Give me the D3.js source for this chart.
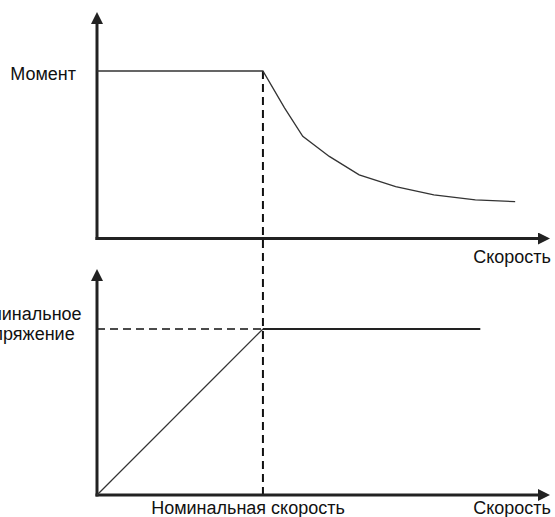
<!DOCTYPE html>
<html>
<head>
<meta charset="utf-8">
<script src="https://cdn.jsdelivr.net/npm/d3@7"></script>
<style>
  html, body { margin: 0; padding: 0; background: #fff; }
  svg { display: block; }
  text { font-family: "Liberation Sans", Arial, sans-serif; font-size: 18px; fill: #111; }
</style>
</head>
<body>
<svg id="chart" width="555" height="517"></svg>
<script>
// Relative speed (1 = nominal speed)
const torqueSpeed = [0, 1, 1.13, 1.24, 1.40, 1.58, 1.80, 2.03, 2.28, 2.52];
// Relative torque: constant up to nominal speed, then falling off
const torqueValue = [1, 1, 0.78, 0.61, 0.49, 0.38, 0.31, 0.26, 0.23, 0.22];

// Relative voltage: rises linearly to nominal, then stays flat
const voltageRiseSpeed = [0, 1];
const voltageRiseValue = [0, 1];
const voltageFlatSpeed = [1, 2.31];
const voltageFlatValue = [1, 1];

const nominalSpeed = 1;
const nominalVoltage = 1;

const labels = {
  torque: "Момент",
  speed: "Скорость",
  voltage: ["Номинальное", "напряжение"],
  nominalSpeed: "Номинальная скорость"
};

const svg = d3.select("#chart");

const x = d3.scaleLinear().domain([0, 2.73]).range([97, 550]);
const yTop = d3.scaleLinear().domain([0, 1]).range([238.5, 71]);
const yBot = d3.scaleLinear().domain([0, 1]).range([495, 329]);

const axisColor = "#222";

// Arrow marker for the axes
const defs = svg.append("defs");
defs.append("marker")
  .attr("id", "arrow")
  .attr("viewBox", "0 0 12 12")
  .attr("refX", 0).attr("refY", 6)
  .attr("markerUnits", "userSpaceOnUse")
  .attr("markerWidth", 12).attr("markerHeight", 12)
  .attr("orient", "auto")
  .append("path")
  .attr("d", "M0,0 L12,6 L0,12 Z")
  .attr("fill", axisColor);

function drawAxes(y, yTipPx) {
  const x0 = x(0), y0 = y(0);
  // vertical axis
  svg.append("line")
    .attr("x1", x0).attr("y1", y0 + 1.5)
    .attr("x2", x0).attr("y2", yTipPx + 12)
    .attr("stroke", axisColor).attr("stroke-width", 3)
    .attr("marker-end", "url(#arrow)");
  // horizontal axis
  svg.append("line")
    .attr("x1", x0 - 1.5).attr("y1", y0)
    .attr("x2", x.range()[1] - 12).attr("y2", y0)
    .attr("stroke", axisColor).attr("stroke-width", 3)
    .attr("marker-end", "url(#arrow)");
}

// Guide lines at nominal speed / nominal voltage
const dash = "8,5";
svg.append("line")
  .attr("x1", x(nominalSpeed)).attr("y1", yTop(1))
  .attr("x2", x(nominalSpeed)).attr("y2", yBot(0))
  .attr("stroke", "#111").attr("stroke-width", 2)
  .attr("stroke-dasharray", dash);
svg.append("line")
  .attr("x1", x(0)).attr("y1", yBot(nominalVoltage))
  .attr("x2", x(nominalSpeed)).attr("y2", yBot(nominalVoltage))
  .attr("stroke", "#111").attr("stroke-width", 1.5)
  .attr("stroke-dasharray", dash);

drawAxes(yTop, 12);
drawAxes(yBot, 269);

// Torque curve
const torqueLine = d3.line().x(d => x(d[0])).y(d => yTop(d[1]));
svg.append("path")
  .datum(d3.zip(torqueSpeed, torqueValue))
  .attr("d", torqueLine)
  .attr("fill", "none")
  .attr("stroke", "#333")
  .attr("stroke-width", 1.3);

// Voltage curve
const voltLine = d3.line().x(d => x(d[0])).y(d => yBot(d[1]));
svg.append("path")
  .datum(d3.zip(voltageRiseSpeed, voltageRiseValue))
  .attr("d", voltLine)
  .attr("fill", "none")
  .attr("stroke", "#333")
  .attr("stroke-width", 1.2);
svg.append("path")
  .datum(d3.zip(voltageFlatSpeed, voltageFlatValue))
  .attr("d", voltLine)
  .attr("fill", "none")
  .attr("stroke", "#222")
  .attr("stroke-width", 2.2);

// Labels
svg.append("text")
  .attr("x", 76).attr("y", yTop(1) + 9)
  .attr("text-anchor", "end")
  .text(labels.torque);

svg.append("text")
  .attr("x", 551).attr("y", 262.5)
  .attr("text-anchor", "end")
  .text(labels.speed);

svg.append("text")
  .attr("x", 551).attr("y", 514)
  .attr("text-anchor", "end")
  .text(labels.speed);

svg.append("text")
  .attr("x", 248).attr("y", 514)
  .attr("text-anchor", "middle")
  .text(labels.nominalSpeed);

const vLabel = svg.append("text")
  .attr("x", 24).attr("y", 320)
  .attr("text-anchor", "middle");
vLabel.selectAll("tspan")
  .data(labels.voltage)
  .join("tspan")
  .attr("x", 24)
  .attr("dy", (d, i) => i === 0 ? 0 : 20)
  .text(d => d);
</script>
</body>
</html>
